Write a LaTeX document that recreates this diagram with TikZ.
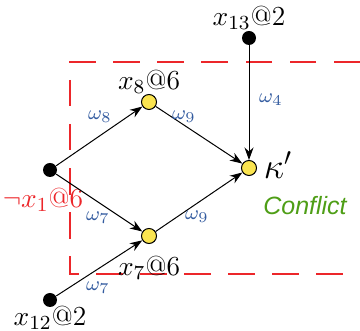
\documentclass[tikz,border=0pt]{standalone}
\usepackage{fontspec}
\newfontfamily\labelsans{Liberation Sans}
\usetikzlibrary{arrows.meta}
\definecolor{cutred}{RGB}{236,38,42}
\definecolor{wblue}{RGB}{52,92,160}
\definecolor{cgreen}{RGB}{78,158,22}
\definecolor{lityellow}{RGB}{250,228,80}
\tikzset{
  decided/.style={circle, fill=black, inner sep=0pt, minimum size=5.6pt},
  implied/.style={circle, draw=black, fill=lityellow, line width=0.4pt, inner sep=0pt, minimum size=6pt},
  wlabel/.style={text=wblue, font=\footnotesize},
  vlabel/.style={font=\fontsize{11}{13}\selectfont},
}
\begin{document}
\begin{tikzpicture}[x=0.4pt, y=-0.4pt, >={Stealth[length=5pt,width=3.6pt]}]
  \useasboundingbox (0,0) rectangle (360,331);
  % conflict cut
  \draw[cutred, line width=1.1pt, dash pattern=on 10.6pt off 7pt]
    (360,62) -- (70,62) -- (70,274) -- (360,274);
  % vertices
  \node[decided] (x1) at (50,170) {};
  \node[implied] (x8) at (149,102) {};
  \node[implied] (x7) at (149,236) {};
  \node[implied] (k) at (249,168) {};
  \node[decided] (x13) at (249,38) {};
  \node[decided] (x12) at (50,300) {};
  % vertex labels
  \node[vlabel] (lx13) at (249,18) {$x_{13}$@2};
  \node[vlabel] (lx8) at (149,82) {$x_8$@6};
  \node[vlabel, text=cutred] (lx1) at (43,200) {$\neg x_1$@6};
  \node[vlabel] (lx7) at (149,268) {$x_7$@6};
  \node[vlabel] (lx12) at (50,318) {$x_{12}$@2};
  \node[font=\fontsize{14}{16}\selectfont] (lk) at (278,165) {$\kappa'$};
  \node[text=cgreen, font=\labelsans\itshape] (conf) at (305,206) {Conflict};
  % implications
  \draw[->] (x1) -- (x8);
  \draw[->] (x1) -- (x7);
  \draw[->] (x12) -- (x7);
  \draw[->] (x8) -- (k);
  \draw[->] (x7) -- (k);
  \draw[->] (x13) -- (k);
  % weights
  \node[wlabel] (w8) at (100,117) {$\omega_8$};
  \node[wlabel] (w7a) at (98,218) {$\omega_7$};
  \node[wlabel] (w9a) at (184,117) {$\omega_9$};
  \node[wlabel] (w9b) at (197,217) {$\omega_9$};
  \node[wlabel] (w4) at (271,100) {$\omega_4$};
  \node[wlabel] (w7b) at (98,288) {$\omega_7$};
\end{tikzpicture}
\end{document}
